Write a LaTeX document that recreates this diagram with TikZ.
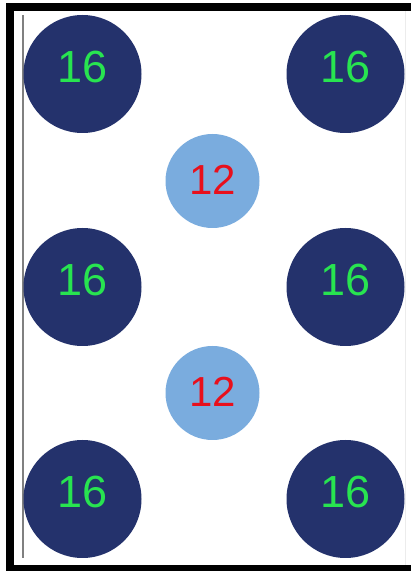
\documentclass[tikz,border=0pt]{standalone}
\usepackage{fontspec}
\usepackage{xcolor}
\newfontfamily\digitfont{Liberation Sans}
\definecolor{darknavy}{RGB}{36,50,108}
\definecolor{skyblue}{RGB}{122,172,222}
\definecolor{digitgreen}{RGB}{40,228,80}
\definecolor{digitred}{RGB}{232,16,28}

\begin{document}
\begin{tikzpicture}[x=1pt,y=1pt,
    bigdisc/.style={circle, fill=darknavy, minimum size=118pt, inner sep=0pt,
      text height=32pt, text depth=14pt,
      text=digitgreen, font=\digitfont\fontsize{45}{45}\selectfont},
    smalldisc/.style={circle, fill=skyblue, minimum size=94pt, inner sep=0pt,
      text height=30pt, text depth=2pt,
      text=digitred, font=\digitfont\fontsize{42}{42}\selectfont}]
      \useasboundingbox (0,0) rectangle (411,571);
      % frame
      \fill[black] (6,560) rectangle (411,568);
      \fill[black] (6,0) rectangle (14,568);
      \fill[black] (6,0) rectangle (411,6);
      \draw[gray, line width=1.2pt] (23,13) -- (23,556);
      \draw[gray!15, line width=0.8pt] (405,6) -- (405,560);
      % outer discs
      \node[bigdisc] (tl) at (82.5,497) {16};
      \node[bigdisc] (tr) at (345.5,497) {16};
      \node[bigdisc] (ml) at (82.5,284) {16};
      \node[bigdisc] (mr) at (345.5,284) {16};
      \node[bigdisc] (bl) at (82.5,72) {16};
      \node[bigdisc] (br) at (345.5,72) {16};
      % inner discs
      \node[smalldisc] (upper) at (212.5,390) {12};
      \node[smalldisc] (lower) at (212.5,178) {12};
    \end{tikzpicture}
\end{document}
